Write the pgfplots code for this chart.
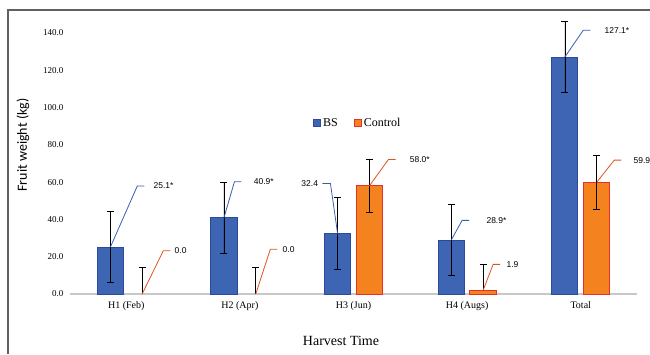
\documentclass[border=0pt]{standalone}
\usepackage{fontspec}
\setmainfont{Liberation Serif}
\newfontfamily\labfont{Liberation Sans}
\newfontfamily\yfont{Carlito}
\usepackage{pgfplots}
\pgfplotsset{compat=1.18}
\definecolor{bsfill}{HTML}{3E64B4}
\definecolor{bsdraw}{HTML}{2B4A9C}
\definecolor{ctfill}{HTML}{F4821F}
\definecolor{ctdraw}{HTML}{E5302A}
\definecolor{bsline}{HTML}{3A5DB0}
\definecolor{ctline}{HTML}{E0531F}
\definecolor{axgray}{HTML}{C8C8C8}
\definecolor{framegray}{HTML}{606060}
\newcommand\lab{\labfont\fontsize{8.5}{10}\selectfont}
% right-going leader: color, start, elbow, text gap, text
\newcommand\leadR[5]{\draw[#1, line width=0.8pt] (axis cs:#2) -- (axis cs:#3) -- ++(7pt,0pt) node[anchor=west, inner sep=0pt, xshift=#4, font=\lab, text=black]{#5};}
\newcommand\leadL[5]{\draw[#1, line width=0.8pt] (axis cs:#2) -- (axis cs:#3) -- ++(-8pt,0pt) node[anchor=east, inner sep=0pt, xshift=-#4, font=\lab, text=black]{#5};}
\begin{document}
\begin{tikzpicture}
\path[use as bounding box] (0,0) rectangle (650pt,354pt);
\draw[framegray, line width=1.2pt] (8pt,0) -- (8pt,344pt) -- (650pt,344pt);
\begin{axis}[
  at={(70pt,60pt)}, anchor=south west, scale only axis,
  width=567pt, height=261pt,
  xmin=-0.495, xmax=4.495, ymin=0, ymax=140, clip=false,
  axis lines*=left,
  x axis line style={-, draw=axgray, line width=1.5pt},
  y axis line style={draw=none},
  major tick length=0pt,
  ytick={0,20,...,140},
  /pgf/number format/assume math mode=true,
  y tick label style={font=\fontsize{9}{10}\selectfont, xshift=-3pt,
    /pgf/number format/fixed, /pgf/number format/fixed zerofill, /pgf/number format/precision=1},
  xtick={0,1,2,3,4},
  xticklabels={H1 (Feb), H2 (Apr), H3 (Jun), H4 (Augs), Total},
  x tick label style={font=\fontsize{10}{12}\selectfont, yshift=-4pt},
  ylabel={Fruit weight (kg)},
  ylabel style={font=\yfont\fontsize{14}{16}\selectfont, at={(axis description cs:-0.083,0.571)}, anchor=center},
  xlabel={Harvest Time},
  xlabel style={font=\fontsize{14}{16}\selectfont, at={(axis description cs:0.478,-0.18)}, anchor=center},
  legend style={at={(axis description cs:0.4286,0.655)}, anchor=west, draw=none, fill=none,
    font=\fontsize{12}{14}\selectfont, inner sep=0pt,
    /tikz/every even column/.append style={column sep=14pt}},
  legend columns=2,
  legend image code/.code={\draw[#1] (0pt,-3.5pt) rectangle (7pt,3.5pt);},
  error bars/error bar style={black, line width=0.7pt},
  error bars/error mark options={rotate=90, black, mark size=3.5pt, line width=0.7pt},
]
\addplot[ybar, bar width=0.23, bar shift=0pt, fill=bsfill, draw=bsdraw, line width=1pt,
  error bars/.cd, y dir=both, y explicit]
  coordinates {(-0.14,25.1) +- (0,19.0) (0.86,40.9) +- (0,19.2) (1.86,32.4) +- (0,19.3)
               (2.86,28.9) +- (0,19.0) (3.86,127.1) +- (0,19.0)};
\addlegendentry{BS}
\addplot[ybar, bar width=0.23, bar shift=0pt, fill=ctfill, draw=ctdraw, line width=1pt,
  error bars/.cd, y dir=both, y explicit]
  coordinates {(2.14,58.0) +- (0,14.4) (4.14,59.9) +- (0,14.3)};
\addlegendentry{Control}
\addplot[ybar, bar width=0.23, bar shift=0pt, fill=ctfill, draw=ctdraw, line width=1pt, forget plot]
  coordinates {(3.14,1.9)};
\addplot[draw=none, mark=none, forget plot, error bars/.cd, y dir=plus, y explicit]
  coordinates {(0.14,0) +- (0,14.3) (1.14,0) +- (0,14.3) (3.14,1.9) +- (0,14.0)};
\leadR{bsline}{-0.14,25.1}{0.097,57.9}{9pt}{25.1*}
\leadR{ctline}{0.14,0}{0.326,23.2}{4pt}{0.0}
\leadR{bsline}{0.86,40.9}{0.952,60.2}{12pt}{40.9*}
\leadR{ctline}{1.14,0}{1.268,24}{5pt}{0.0}
\leadL{bsline}{1.86,32.4}{1.797,59.3}{4pt}{32.4}
\leadR{ctline}{2.14,58.0}{2.308,72.2}{14pt}{58.0*}
\leadR{bsline}{2.86,28.9}{2.956,39.5}{17pt}{28.9*}
\leadR{ctline}{3.14,1.9}{3.229,15.9}{6pt}{1.9}
\leadR{bsline}{3.86,127.1}{4.022,141.5}{14pt}{127.1*}
\leadR{ctline}{4.14,59.9}{4.295,71.8}{12pt}{59.9}
\end{axis}
\end{tikzpicture}
\end{document}
